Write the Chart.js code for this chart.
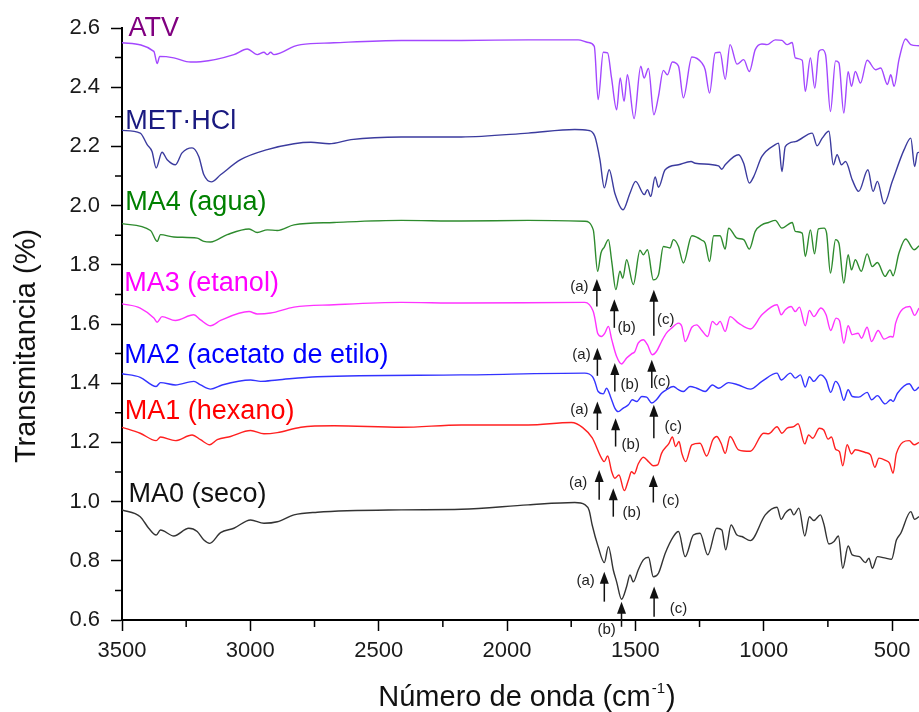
<!DOCTYPE html>
<html>
<head>
<meta charset="utf-8">
<script src="https://cdn.jsdelivr.net/npm/chart.js"></script>
<style>
  html, body { margin: 0; padding: 0; background: #fff; }
  #wrap { width: 919px; height: 712px; }
</style>
</head>
<body>
<div id="wrap"><canvas id="ftirChart"></canvas></div>
<script>
// wavenumber (cm-1), transmittance (offset) pairs
const atv = [[3500,2.55],[3376,2.521],[3363,2.48],[3353,2.504],[3298,2.499],[3233,2.485],[3194,2.486],[3064,2.51],[3012,2.529],[2973,2.51],[2947,2.518],[2934,2.51],[2921,2.518],[2908,2.51],[2882,2.516],[2830,2.538],[2803,2.544],[2674,2.55],[2412,2.558],[2178,2.558],[1918,2.56],[1723,2.56],[1684,2.551],[1660,2.538],[1645,2.358],[1625,2.518],[1608,2.516],[1593,2.432],[1573,2.324],[1559,2.431],[1544,2.352],[1531,2.442],[1505,2.294],[1479,2.471],[1466,2.431],[1449,2.463],[1428,2.307],[1410,2.369],[1391,2.457],[1375,2.442],[1356,2.485],[1332,2.471],[1313,2.364],[1280,2.502],[1241,2.482],[1228,2.459],[1211,2.38],[1189,2.516],[1170,2.518],[1150,2.427],[1131,2.544],[1104,2.478],[1078,2.493],[1056,2.453],[1033,2.527],[1007,2.546],[987,2.544],[955,2.56],[929,2.558],[909,2.544],[889,2.551],[877,2.499],[850,2.491],[838,2.386],[818,2.499],[801,2.397],[785,2.521],[772,2.527],[759,2.51],[740,2.318],[720,2.489],[707,2.482],[688,2.313],[671,2.452],[658,2.403],[643,2.453],[623,2.414],[597,2.491],[564,2.459],[544,2.465],[518,2.409],[505,2.442],[492,2.403],[473,2.493],[447,2.563],[427,2.544],[395,2.54]];

const metHcl = [[3500,2.254],[3429,2.245],[3402,2.206],[3383,2.183],[3367,2.127],[3344,2.18],[3324,2.155],[3292,2.138],[3266,2.178],[3227,2.195],[3201,2.166],[3181,2.104],[3152,2.08],[3116,2.104],[3038,2.155],[2934,2.189],[2830,2.209],[2764,2.214],[2693,2.209],[2608,2.223],[2412,2.232],[2178,2.232],[1918,2.245],[1736,2.257],[1684,2.254],[1658,2.234],[1638,2.155],[1621,2.06],[1602,2.121],[1580,2.042],[1548,1.986],[1521,2.042],[1499,2.082],[1465,2.037],[1453,2.054],[1440,2.031],[1423,2.097],[1410,2.062],[1384,2.121],[1332,2.138],[1283,2.149],[1267,2.143],[1176,2.134],[1163,2.123],[1150,2.138],[1098,2.172],[1078,2.143],[1056,2.076],[1039,2.098],[1007,2.166],[955,2.206],[942,2.211],[929,2.115],[916,2.199],[877,2.216],[811,2.245],[792,2.202],[772,2.228],[746,2.251],[729,2.138],[714,2.172],[697,2.138],[681,2.149],[655,2.087],[630,2.048],[594,2.121],[574,2.048],[557,2.082],[531,2.006],[499,2.082],[453,2.189],[427,2.228],[412,2.132],[401,2.178],[395,2.18]];

const ma4 = [[3500,1.939],[3389,1.916],[3363,1.879],[3350,1.902],[3298,1.894],[3207,1.89],[3181,1.879],[3155,1.877],[3090,1.902],[3005,1.921],[2973,1.909],[2934,1.918],[2895,1.916],[2830,1.935],[2674,1.943],[2412,1.95],[2178,1.948],[1918,1.95],[1697,1.947],[1664,1.918],[1647,1.778],[1634,1.84],[1621,1.86],[1605,1.885],[1592,1.811],[1576,1.716],[1560,1.778],[1549,1.755],[1534,1.817],[1508,1.733],[1482,1.849],[1469,1.834],[1453,1.851],[1430,1.749],[1410,1.766],[1391,1.862],[1365,1.857],[1352,1.885],[1332,1.862],[1313,1.806],[1280,1.898],[1241,1.883],[1228,1.873],[1211,1.811],[1195,1.898],[1170,1.898],[1150,1.853],[1137,1.924],[1104,1.89],[1078,1.885],[1056,1.853],[1033,1.913],[1007,1.935],[981,1.943],[955,1.95],[929,1.924],[889,1.943],[877,1.913],[850,1.907],[838,1.828],[818,1.918],[802,1.837],[787,1.921],[765,1.924],[755,1.907],[740,1.772],[720,1.885],[707,1.873],[688,1.738],[671,1.834],[658,1.783],[643,1.817],[620,1.778],[597,1.837],[577,1.794],[557,1.808],[527,1.761],[508,1.783],[496,1.763],[473,1.84],[447,1.887],[414,1.851],[395,1.864]];

const ma3 = [[3500,1.668],[3429,1.654],[3376,1.62],[3363,1.606],[3344,1.625],[3292,1.612],[3220,1.631],[3194,1.614],[3155,1.594],[3116,1.612],[3005,1.642],[2973,1.634],[2921,1.637],[2830,1.657],[2674,1.665],[2412,1.673],[2178,1.671],[1697,1.673],[1664,1.642],[1658,1.62],[1647,1.569],[1632,1.558],[1619,1.569],[1605,1.592],[1592,1.547],[1573,1.49],[1554,1.465],[1534,1.485],[1515,1.499],[1502,1.507],[1489,1.535],[1469,1.547],[1453,1.53],[1434,1.496],[1418,1.507],[1398,1.541],[1379,1.569],[1359,1.586],[1332,1.603],[1319,1.592],[1306,1.541],[1280,1.589],[1261,1.597],[1241,1.578],[1218,1.558],[1200,1.609],[1183,1.597],[1170,1.609],[1150,1.575],[1131,1.625],[1098,1.603],[1052,1.583],[1007,1.631],[948,1.665],[932,1.631],[916,1.648],[893,1.659],[877,1.642],[861,1.657],[838,1.594],[822,1.646],[805,1.625],[777,1.654],[757,1.631],[739,1.578],[718,1.62],[705,1.612],[688,1.535],[671,1.594],[655,1.564],[632,1.569],[619,1.552],[597,1.589],[580,1.541],[554,1.578],[531,1.549],[505,1.558],[496,1.556],[486,1.603],[431,1.659],[412,1.629],[395,1.654]];

const ma2 = [[3500,1.432],[3429,1.42],[3367,1.389],[3350,1.402],[3292,1.394],[3220,1.406],[3194,1.394],[3155,1.38],[3110,1.394],[2999,1.411],[2960,1.406],[2895,1.411],[2739,1.422],[2178,1.428],[1697,1.434],[1667,1.422],[1658,1.406],[1645,1.372],[1625,1.364],[1612,1.383],[1595,1.35],[1580,1.316],[1567,1.304],[1547,1.316],[1527,1.327],[1512,1.344],[1495,1.338],[1475,1.355],[1456,1.353],[1436,1.333],[1418,1.344],[1398,1.366],[1379,1.378],[1352,1.389],[1332,1.378],[1313,1.372],[1287,1.389],[1261,1.383],[1228,1.372],[1200,1.394],[1176,1.383],[1137,1.402],[1098,1.394],[1052,1.38],[1007,1.406],[948,1.434],[932,1.411],[896,1.434],[877,1.417],[857,1.428],[838,1.387],[822,1.422],[805,1.406],[779,1.428],[757,1.411],[739,1.369],[720,1.406],[705,1.389],[688,1.342],[671,1.378],[655,1.355],[630,1.353],[597,1.369],[580,1.344],[557,1.358],[527,1.33],[505,1.344],[496,1.338],[479,1.366],[433,1.398],[412,1.375],[395,1.387]];

const ma1 = [[3500,1.251],[3429,1.231],[3367,1.206],[3350,1.218],[3292,1.206],[3227,1.225],[3194,1.209],[3158,1.192],[3129,1.209],[3077,1.22],[2999,1.24],[2947,1.229],[2895,1.233],[2803,1.251],[2674,1.256],[2412,1.251],[2178,1.259],[1918,1.259],[1749,1.267],[1705,1.25],[1668,1.215],[1632,1.147],[1621,1.135],[1608,1.154],[1592,1.101],[1580,1.079],[1564,1.09],[1543,1.037],[1527,1.073],[1515,1.101],[1504,1.094],[1489,1.127],[1469,1.15],[1449,1.135],[1430,1.121],[1413,1.124],[1398,1.163],[1369,1.197],[1356,1.218],[1343,1.186],[1330,1.203],[1319,1.163],[1304,1.135],[1280,1.192],[1248,1.197],[1222,1.154],[1198,1.209],[1183,1.22],[1166,1.197],[1150,1.163],[1131,1.22],[1098,1.175],[1052,1.17],[1000,1.231],[981,1.229],[948,1.253],[929,1.231],[909,1.248],[883,1.253],[866,1.263],[840,1.195],[825,1.225],[809,1.214],[783,1.248],[766,1.242],[749,1.211],[736,1.218],[720,1.177],[705,1.169],[692,1.121],[675,1.192],[658,1.161],[643,1.175],[604,1.166],[584,1.158],[567,1.116],[551,1.147],[525,1.139],[510,1.13],[496,1.096],[483,1.163],[433,1.206],[414,1.192],[395,1.2]];

const ma0 = [[3500,0.972],[3429,0.949],[3396,0.91],[3367,0.887],[3350,0.904],[3298,0.884],[3240,0.91],[3207,0.899],[3181,0.87],[3158,0.859],[3116,0.895],[3064,0.91],[2999,0.938],[2947,0.927],[2895,0.932],[2830,0.955],[2739,0.964],[2412,0.972],[2178,0.974],[1918,0.989],[1736,0.997],[1697,0.99],[1680,0.97],[1668,0.92],[1645,0.848],[1621,0.794],[1605,0.848],[1586,0.769],[1573,0.729],[1554,0.67],[1534,0.713],[1521,0.752],[1508,0.729],[1489,0.769],[1469,0.803],[1449,0.812],[1430,0.746],[1410,0.758],[1384,0.825],[1352,0.882],[1332,0.899],[1306,0.814],[1274,0.887],[1248,0.893],[1218,0.82],[1183,0.91],[1163,0.904],[1148,0.837],[1127,0.921],[1104,0.887],[1085,0.882],[1052,0.868],[994,0.955],[948,0.981],[932,0.94],[916,0.961],[896,0.974],[883,0.955],[863,0.978],[840,0.884],[822,0.949],[805,0.936],[779,0.955],[766,0.925],[746,0.857],[726,0.865],[709,0.884],[692,0.775],[671,0.85],[655,0.82],[627,0.814],[604,0.794],[590,0.809],[577,0.775],[557,0.814],[525,0.809],[502,0.805],[483,0.87],[466,0.893],[427,0.966],[412,0.94],[395,0.949]];

const seriesNames = ["ATV", "MET·HCl", "MA4 (agua)", "MA3 (etanol)", "MA2 (acetato de etilo)", "MA1 (hexano)", "MA0 (seco)"];
const seriesData = [atv, metHcl, ma4, ma3, ma2, ma1, ma0];
const lineColors = ["#a347ff", "#3b3b9e", "#2e8b2e", "#ff33ff", "#3333ff", "#ff2020", "#333333"];
const textColors = ["#800080", "#1a1a80", "#008000", "#ff00ff", "#0000ff", "#ff0000", "#111111"];
// where each name sits: [wavenumber at left edge, value at baseline]
const namePos = [[3475,2.574],[3487,2.259],[3487,1.986],[3491,1.71],[3491,1.468],[3489,1.279],[3475,1.0]];

const xTicks = [3500, 3000, 2500, 2000, 1500, 1000, 500];
const xMinorTicks = [3250, 2750, 2250, 1750, 1250, 750];
const yTicks = [0.6, 0.8, 1.0, 1.2, 1.4, 1.6, 1.8, 2.0, 2.2, 2.4, 2.6];
const yMinorTicks = [0.7, 0.9, 1.1, 1.3, 1.5, 1.7, 1.9, 2.1, 2.3, 2.5];

// band markers: [wavenumber, arrow bottom, arrow tip, label x, label y]
const bandLabels = ["(a)", "(b)", "(c)"];
const ma4Bands = [[1650,1.659,1.752,1718,1.726],[1582,1.587,1.684,1534,1.587],[1428,1.56,1.716,1382,1.614]];
const ma3Bands = [[1648,1.425,1.52,1710,1.496],[1580,1.372,1.468,1522,1.394],[1436,1.384,1.479,1397,1.406]];
const ma2Bands = [[1648,1.242,1.338,1718,1.31],[1577,1.186,1.282,1518,1.192],[1428,1.214,1.327,1352,1.253]];
const ma1Bands = [[1641,1.006,1.107,1723,1.064],[1586,0.949,1.045,1514,0.963],[1430,0.997,1.09,1362,1.003]];
const ma0Bands = [[1621,0.662,0.763,1694,0.733],[1554,0.577,0.662,1612,0.566],[1427,0.611,0.713,1332,0.636]];
const allBands = [ma4Bands, ma3Bands, ma2Bands, ma1Bands, ma0Bands];

const FONT = "'Liberation Sans', Arial, sans-serif";
Chart.defaults.font.family = FONT;

const extras = {
  id: "extras",
  afterDraw(chart) {
    const { ctx, scales: { x, y } } = chart;
    ctx.save();

    // minor ticks
    ctx.strokeStyle = "#000";
    ctx.lineWidth = 1.5;
    ctx.beginPath();
    xMinorTicks.forEach(v => {
      const px = x.getPixelForValue(v);
      ctx.moveTo(px, y.bottom);
      ctx.lineTo(px, y.bottom + 7);
    });
    yMinorTicks.forEach(v => {
      const py = y.getPixelForValue(v);
      ctx.moveTo(x.left, py);
      ctx.lineTo(x.left - 7, py);
    });
    ctx.stroke();

    // series names
    ctx.font = "27px " + FONT;
    ctx.textAlign = "left";
    ctx.textBaseline = "alphabetic";
    seriesNames.forEach((name, i) => {
      ctx.fillStyle = textColors[i];
      ctx.fillText(name, x.getPixelForValue(namePos[i][0]), y.getPixelForValue(namePos[i][1]));
    });

    // arrows and (a)(b)(c)
    ctx.font = "15px " + FONT;
    ctx.textAlign = "center";
    ctx.textBaseline = "middle";
    allBands.forEach(bands => {
      bands.forEach((b, j) => {
        const px = x.getPixelForValue(b[0]);
        const y0 = y.getPixelForValue(b[1]);
        const y1 = y.getPixelForValue(b[2]);
        ctx.strokeStyle = "#111";
        ctx.fillStyle = "#111";
        ctx.lineWidth = 1.5;
        ctx.beginPath();
        ctx.moveTo(px, y0);
        ctx.lineTo(px, y1 + 8);
        ctx.stroke();
        ctx.beginPath();
        ctx.moveTo(px, y1);
        ctx.lineTo(px - 4.5, y1 + 12);
        ctx.lineTo(px + 4.5, y1 + 12);
        ctx.closePath();
        ctx.fill();
        ctx.fillStyle = "#222";
        ctx.fillText(bandLabels[j], x.getPixelForValue(b[3]), y.getPixelForValue(b[4]));
      });
    });

    // axis titles
    ctx.fillStyle = "#111";
    ctx.font = "29px " + FONT;
    ctx.textBaseline = "alphabetic";
    ctx.save();
    ctx.translate(35, (y.top + y.bottom) / 2 + 22);
    ctx.rotate(-Math.PI / 2);
    ctx.textAlign = "center";
    ctx.fillText("Transmitancia (%)", 0, 0);
    ctx.restore();

    const part1 = "Número de onda (cm", sup = "-1", part2 = ")";
    ctx.font = "29px " + FONT;
    const w1 = ctx.measureText(part1).width;
    const w3 = ctx.measureText(part2).width;
    ctx.font = "15px " + FONT;
    const w2 = ctx.measureText(sup).width;
    let sx = 526 - (w1 + w2 + w3) / 2;
    ctx.textAlign = "left";
    ctx.font = "29px " + FONT;
    ctx.fillText(part1, sx, 706);
    ctx.font = "15px " + FONT;
    ctx.fillText(sup, sx + w1 + 1, 693);
    ctx.font = "29px " + FONT;
    ctx.fillText(part2, sx + w1 + w2 + 2, 706);

    ctx.restore();
  }
};

new Chart(document.getElementById("ftirChart"), {
  type: "line",
  data: {
    datasets: seriesData.map((pts, i) => ({
      label: seriesNames[i],
      data: pts.map(([wn, t]) => ({ x: wn, y: t })),
      borderColor: lineColors[i],
      borderWidth: 1.4,
      pointRadius: 0,
      fill: false,
      cubicInterpolationMode: "monotone"
    }))
  },
  options: {
    responsive: true,
    maintainAspectRatio: false,
    animation: false,
    layout: { padding: { top: 28, right: 0, bottom: 0, left: 0 } },
    plugins: {
      legend: { display: false },
      tooltip: { enabled: false }
    },
    scales: {
      x: {
        type: "linear",
        reverse: true,
        min: 395,
        max: 3500,
        afterBuildTicks: s => { s.ticks = xTicks.map(v => ({ value: v })); },
        afterFit: s => { s.height = 92; },
        border: { display: true, color: "#000", width: 2 },
        grid: { drawOnChartArea: false, drawTicks: true, tickLength: 11, tickColor: "#000", tickWidth: 1.5 },
        ticks: { autoSkip: false, maxRotation: 0, padding: 7, color: "#1a1a1a", font: { size: 22 }, callback: v => String(v) }
      },
      y: {
        min: 0.6,
        max: 2.6,
        afterBuildTicks: s => { s.ticks = yTicks.map(v => ({ value: v })); },
        afterFit: s => { s.width = 122; },
        border: { display: true, color: "#000", width: 2 },
        grid: { drawOnChartArea: false, drawTicks: true, tickLength: 11, tickColor: "#000", tickWidth: 1.5 },
        ticks: { padding: 11, color: "#1a1a1a", font: { size: 22 }, callback: v => v.toFixed(1) }
      }
    }
  },
  plugins: [extras]
});
</script>
</body>
</html>
